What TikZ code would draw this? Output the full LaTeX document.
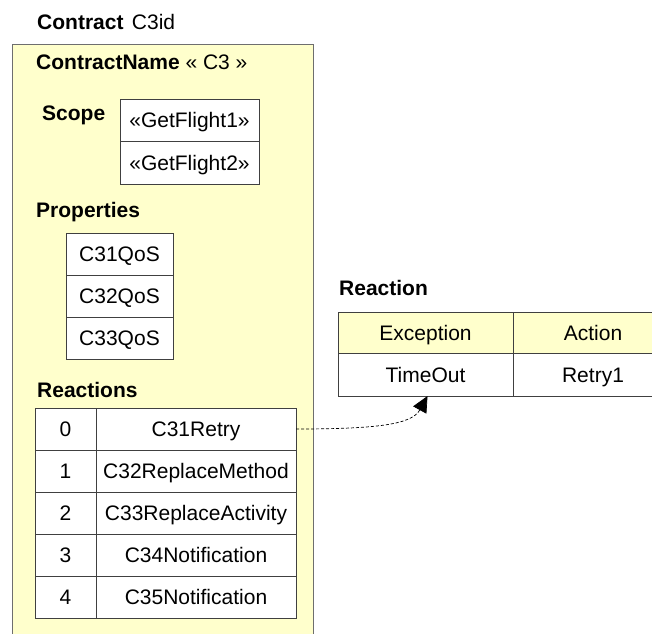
\documentclass[tikz,border=0pt]{standalone}
\usepackage{fontspec}
\setmainfont{Liberation Sans}
\usetikzlibrary{arrows.meta}
\definecolor{paleyellow}{HTML}{FFFFCC}
\definecolor{boxgray}{HTML}{6E6E6E}
\definecolor{linegray}{HTML}{404040}
\newcommand{\fs}{\fontsize{21}{25}\selectfont}
\tikzset{
  cell/.style={draw=linegray, line width=0.9pt, fill=white, inner sep=0pt, outer sep=0pt,
    anchor=north west, font=\fs, text=black, text height=15pt, text depth=0pt},
  hcell/.style={cell, fill=paleyellow},
  lbl/.style={anchor=base west, inner sep=0pt, font=\fs\bfseries},
  link/.style={densely dashed, line width=0.7pt, -{Triangle[length=16pt,width=15pt]}}
}
\begin{document}
\begin{tikzpicture}[x=1pt,y=-1pt]
\useasboundingbox (0,0) rectangle (652,633);
\fill[white] (0,0) rectangle (652,633);
% contract box
\draw[boxgray, line width=0.9pt, fill=paleyellow] (12,660) -- (12,44) -- (313,44) -- (313,660);
\node[lbl] (title) at (37,29) {Contract\hspace{0.4em}\mdseries C3id};
\node[lbl] (cname) at (36,69) {ContractName \mdseries « C3 »};
\node[lbl] (scope) at (42,120) {Scope};
\node[lbl] (props) at (36,217) {Properties};
\node[lbl] (reacs) at (37,397) {Reactions};
\node[lbl] (reac) at (339,295) {Reaction};
% scope table
\node[cell, minimum width=139pt, minimum height=42pt] (s1) at (120,99) {«GetFlight1»};
\node[cell, minimum width=139pt, minimum height=43pt] (s2) at (120,141) {«GetFlight2»};
% properties table
\node[cell, minimum width=107pt, minimum height=42pt] (p1) at (66,233) {C31QoS};
\node[cell, minimum width=107pt, minimum height=42pt] (p2) at (66,275) {C32QoS};
\node[cell, minimum width=107pt, minimum height=42pt] (p3) at (66,317) {C33QoS};
% reactions table
\foreach \i/\n/\t in {0/408/C31Retry,1/450/C32ReplaceMethod,2/492/C33ReplaceActivity,3/534/C34Notification,4/576/C35Notification}{
  \node[cell, minimum width=61pt, minimum height=42pt] (ri\i) at (35,\n) {\i};
  \node[cell, minimum width=200pt, minimum height=42pt] (rn\i) at (96,\n) {\t};
}
% reaction table
\node[hcell, minimum width=175pt, minimum height=41pt] (hex) at (338,312) {Exception};
\node[hcell, minimum width=160pt, minimum height=41pt, text width=139pt, align=center] (hac) at (513,312) {Action};
\node[cell, minimum width=175pt, minimum height=43pt] (vex) at (338,353) {TimeOut};
\node[cell, minimum width=160pt, minimum height=43pt, text width=139pt, align=center] (vac) at (513,353) {Retry1};
% connector
\draw[link] (rn0.east) .. controls (380,429) and (412,424) .. ([xshift=2pt]vex.south);
\end{tikzpicture}
\end{document}
